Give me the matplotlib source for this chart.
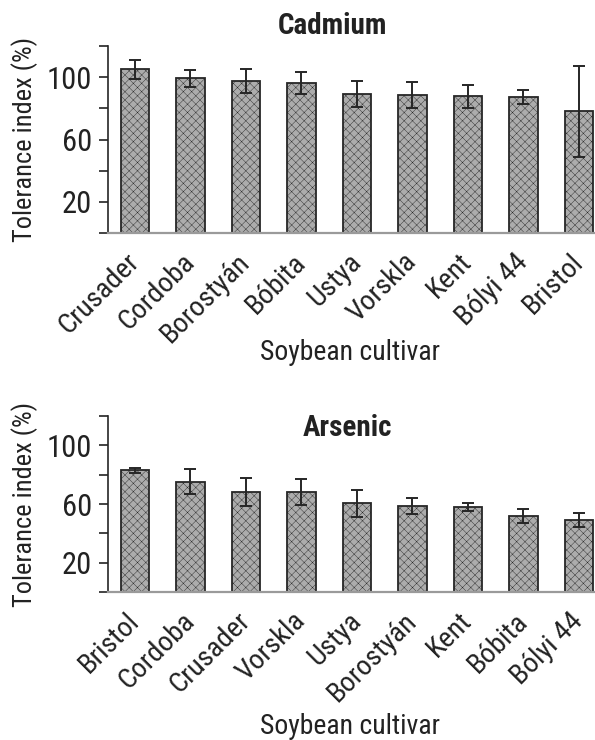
import matplotlib
matplotlib.use("Agg")
import matplotlib.pyplot as plt
from matplotlib import font_manager

# pick a narrow sans face if one is installed
FONT = "Liberation Sans"
STRETCH = "normal"
for fam, st in [("Liberation Sans Narrow", "normal"), ("Arial Narrow", "normal"),
                ("Roboto Condensed", "normal"), ("Open Sans Condensed", "normal"),
                ("Noto Sans", "condensed"), ("Open Sans", "condensed"),
                ("DejaVu Sans", "condensed")]:
    try:
        path = font_manager.findfont(
            font_manager.FontProperties(family=fam, stretch=st),
            fallback_to_default=False)
    except Exception:
        continue
    if st == "normal" or "ondensed" in path:
        FONT, STRETCH = fam, st
        break
plt.rcParams["font.family"] = [FONT, "DejaVu Sans"]
plt.rcParams["font.stretch"] = STRETCH

# tolerance index (%), mean and error, per soybean cultivar
cd_cultivars = ["Crusader", "Cordoba", "Borostyán", "Bóbita", "Ustya",
                "Vorskla", "Kent", "Bólyi 44", "Bristol"]
cd_values = [105, 99.4, 97.7, 96, 89.2, 88.7, 87.7, 87.2, 78]
cd_errors = [6.2, 5.5, 7.8, 7.0, 8.3, 8.5, 7.3, 4.5, 29]

as_cultivars = ["Bristol", "Cordoba", "Crusader", "Vorskla", "Ustya",
                "Borostyán", "Kent", "Bóbita", "Bólyi 44"]
as_values = [82.9, 75.3, 68, 68, 60.4, 58.6, 57.9, 52, 49]
as_errors = [1.5, 8.5, 9.5, 9.0, 9.0, 5.2, 3.0, 4.7, 4.8]

y_ticks = [0, 20, 40, 60, 80, 100, 120]
y_ticklabels = ["", "20", "", "60", "", "100", ""]

W, H = 595, 740
plt.rcParams["hatch.color"] = "#9c9c9c"
plt.rcParams["hatch.linewidth"] = 0.3
fig = plt.figure(figsize=(W / 100, H / 100), dpi=100)


def panel(rect, cultivars, values, errors):
    ax = fig.add_axes(rect)
    x = list(range(len(cultivars)))
    ax.bar(x, values, width=0.51, color="#acacac", edgecolor="#262626",
           linewidth=1.3, hatch="xxxx", zorder=2)
    ax.errorbar(x, values, yerr=errors, fmt="none", ecolor="#262626",
                elinewidth=1.4, capsize=4.2, capthick=1.4, zorder=3)
    ax.set_xlim(-0.486, 8.29)
    ax.set_ylim(0, 120)
    ax.set_yticks(y_ticks)
    ax.set_yticklabels(y_ticklabels)
    ax.set_xticks(x)
    ax.set_xticklabels(cultivars, rotation=45, ha="right", va="center",
                       rotation_mode="anchor")
    ax.tick_params(axis="x", length=0, pad=18, labelsize=20.5, colors="#222222")
    ax.tick_params(axis="y", length=6.5, width=1.2, pad=5, labelsize=22,
                   colors="#222222")
    for side in ("top", "right"):
        ax.spines[side].set_visible(False)
    ax.spines["left"].set_color("#262626")
    ax.spines["left"].set_linewidth(1.2)
    ax.spines["bottom"].set_color("#9a9a9a")
    ax.spines["bottom"].set_linewidth(1.6)
    ax.set_ylabel("Tolerance index (%)", fontsize=19, color="#222222",
                  labelpad=6)
    return ax


left = 108 / W
width = (W - 108) / W
ax1 = panel([left, 1 - 233 / H, width, (233 - 46) / H],
            cd_cultivars, cd_values, cd_errors)
ax2 = panel([left, 1 - 592 / H, width, (592 - 416) / H],
            as_cultivars, as_values, as_errors)

fig.text(332 / W, 1 - 26 / H, "Cadmium", ha="center", va="center",
         fontsize=21, fontweight="bold", color="#222222")
fig.text(347 / W, 1 - 428 / H, "Arsenic", ha="center", va="center",
         fontsize=21, fontweight="bold", color="#222222")
fig.text(350 / W, 1 - 352 / H, "Soybean cultivar", ha="center", va="center",
         fontsize=20, color="#222222")
fig.text(350 / W, 1 - 727 / H, "Soybean cultivar", ha="center", va="center",
         fontsize=20, color="#222222")

fig.savefig("out.png", dpi=100, facecolor="white")
